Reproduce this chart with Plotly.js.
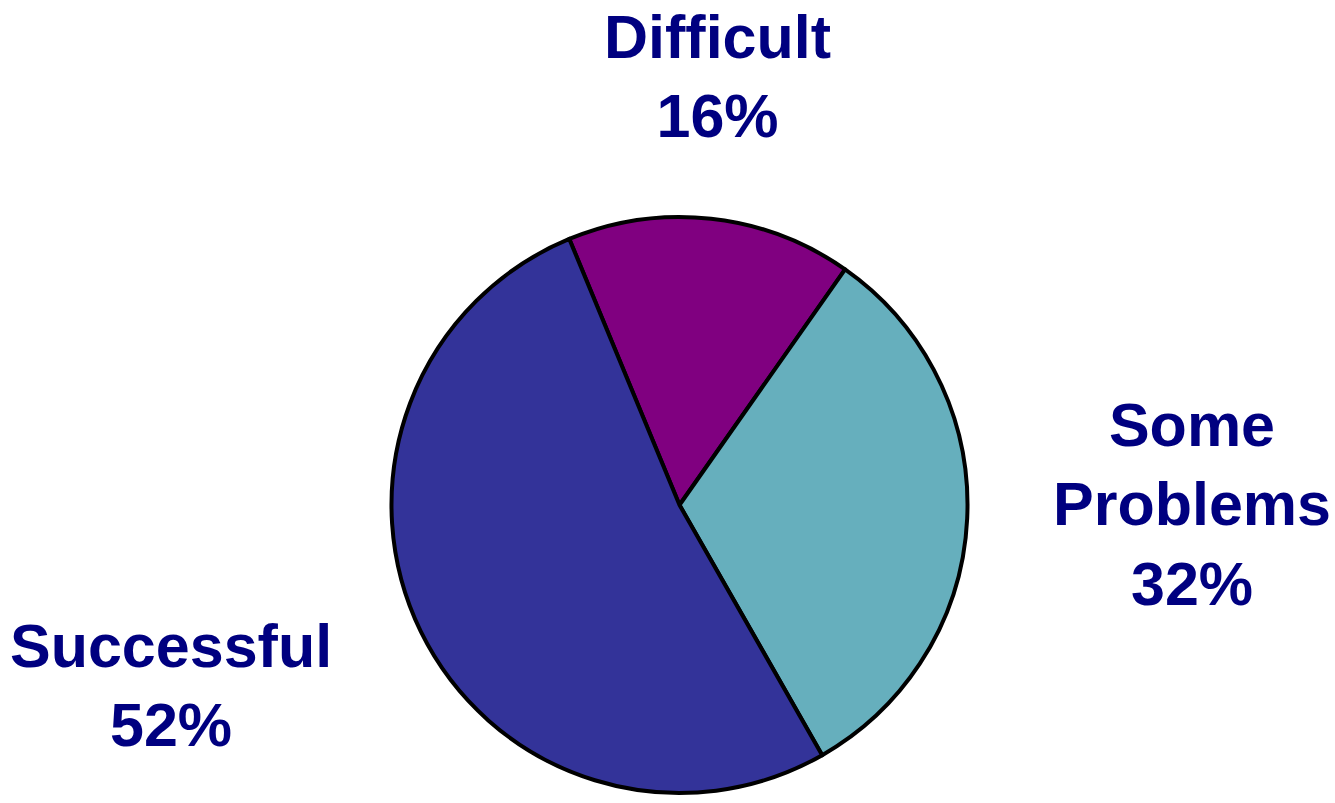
<!DOCTYPE html>
<html>
<head>
<meta charset="utf-8">
<script src="https://cdn.plot.ly/plotly-3.0.1.min.js"></script>
<style>html,body{margin:0;padding:0;background:#fff;}#chart{width:1335px;height:803px;}</style>
</head>
<body>
<div id="chart"></div>
<script>
// Data
const labels = ['Difficult', 'Some Problems', 'Successful'];
const values = [16, 32, 52];
const sliceColors = ['#800080', '#66AFBD', '#333399'];
// label placement (pixel centres of each text block)
const labelPosX = [717, 1192, 171];
const labelPosY = [76, 505, 685];

const W = 1335, H = 803;
const cx = 679.5, cy = 505, r = 288;

const trace = {
  type: 'pie',
  labels: labels,
  values: values,
  sort: false,
  direction: 'clockwise',
  rotation: -22.5,
  marker: { colors: sliceColors, line: { color: '#000000', width: 4 } },
  textinfo: 'none',
  hoverinfo: 'skip',
  showlegend: false,
  domain: {
    x: [(cx - r) / W, (cx + r) / W],
    y: [(H - cy - r) / H, (H - cy + r) / H]
  }
};

const annotations = labels.map((lab, i) => ({
  xref: 'paper', yref: 'paper',
  x: labelPosX[i] / W, y: 1 - labelPosY[i] / H,
  xanchor: 'center', yanchor: 'middle',
  showarrow: false,
  align: 'center',
  text: lab.replace(' ', '<br>') + '<br>' + values[i] + '%',
  font: { family: 'Arial, "Liberation Sans", sans-serif', size: 61, color: '#000080', weight: 'bold' }
}));

const layout = {
  width: W, height: H,
  margin: { l: 0, r: 0, t: 0, b: 0 },
  paper_bgcolor: '#ffffff',
  plot_bgcolor: '#ffffff',
  showlegend: false,
  annotations: annotations
};

Plotly.newPlot('chart', [trace], layout, { displayModeBar: false, staticPlot: true });
</script>
</body>
</html>
